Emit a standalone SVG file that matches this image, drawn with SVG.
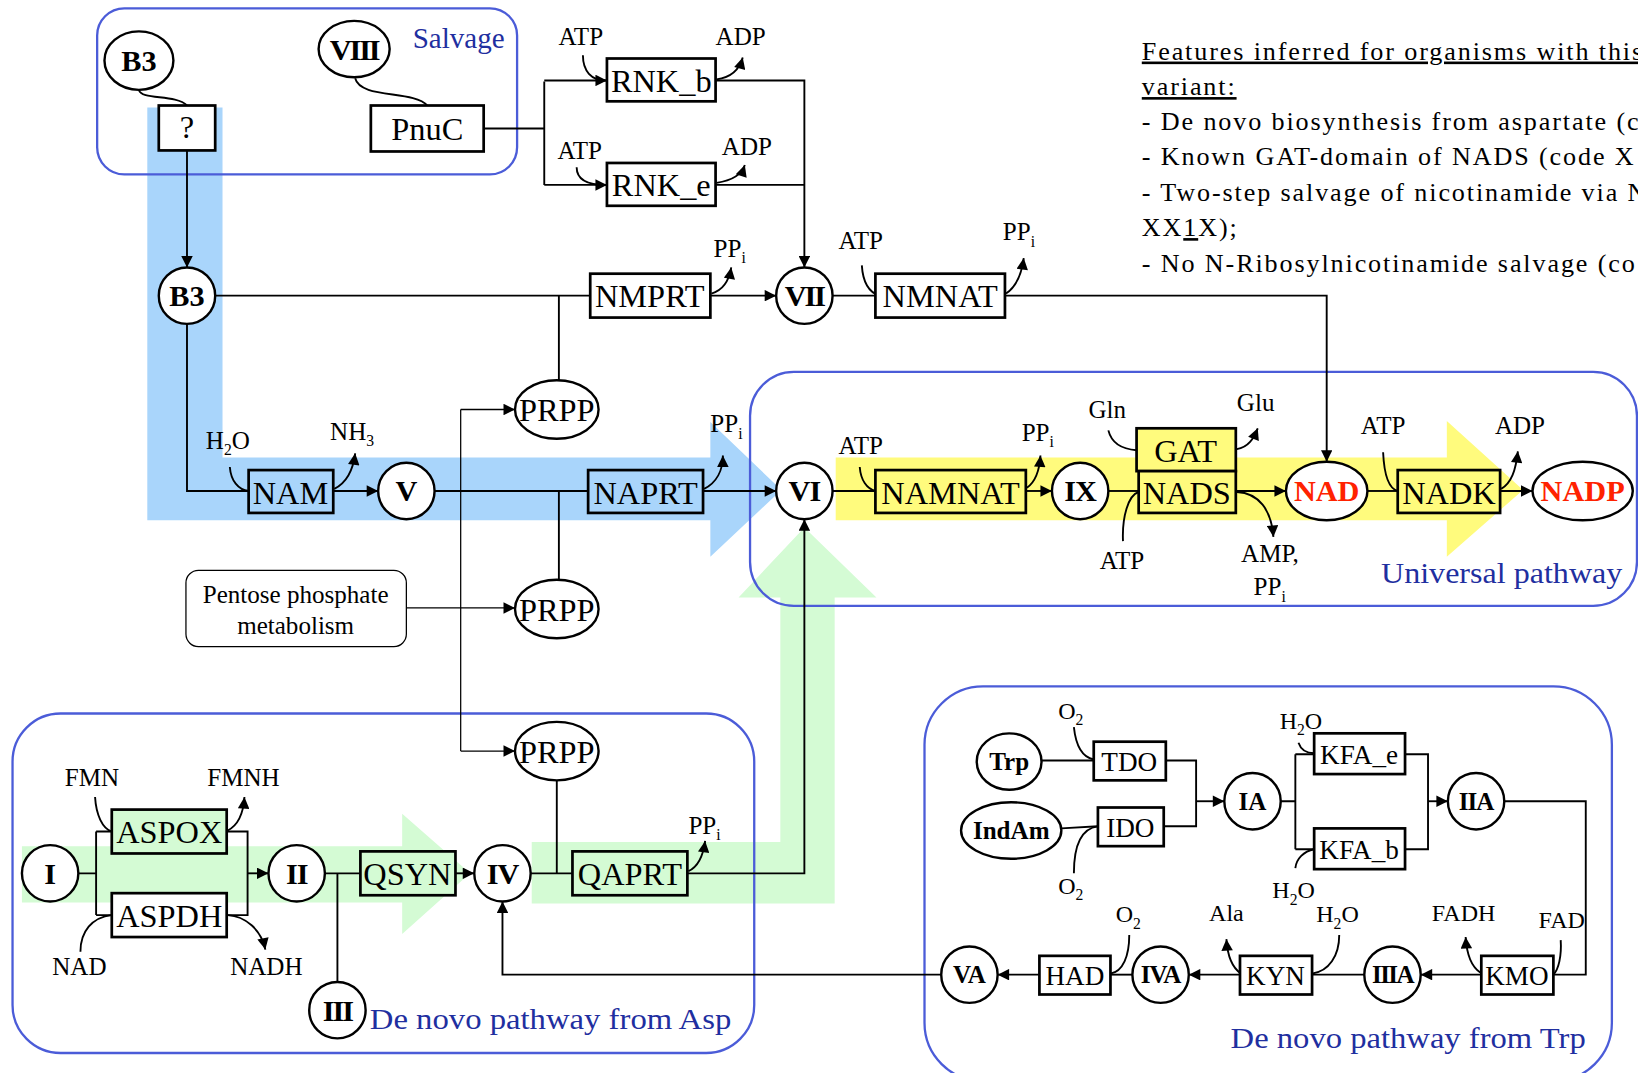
<svg xmlns="http://www.w3.org/2000/svg" width="1638" height="1073" viewBox="0 0 1638 1073">
<defs>
<marker id="ah" viewBox="0 0 10 10" refX="10" refY="5" markerWidth="14" markerHeight="11" markerUnits="userSpaceOnUse" orient="auto"><path d="M0,0L10,5L0,10z" fill="#000"/></marker>
<style>
text{font-family:"Liberation Serif","Times New Roman",serif;fill:#000}
.enz{font-size:31px;text-anchor:middle}
.enzs{font-size:26px;text-anchor:middle}
.met{font-size:29px;font-weight:bold;text-anchor:middle}
.mets{font-size:24px;font-weight:bold;text-anchor:middle}
.lab{font-size:24px}
.labs{font-size:23px}
.sub{font-size:15px}
.grp{font-size:29px;fill:#1f2fa0}
.feat{font-size:25px;letter-spacing:1.8px}
.box{stroke:#000;stroke-width:2.6;fill:#fff}
.circ{stroke:#000;stroke-width:2.3;fill:#fff}
.frame{fill:none;stroke:#4b5cd8;stroke-width:2.2}
.c{fill:none;stroke:#000;stroke-width:1.8}
.t{fill:none;stroke:#000;stroke-width:1.2}
.red{fill:#ff2200}
</style>
</defs>
<rect width="1638" height="1073" fill="#fff"/>
<g transform="scale(1.04464)">
<!-- background flow bands -->
<g id="bands">
<polygon points="141,103 213,103 213,438 680,438 680,404 748,469 680,533 680,498 141,498" fill="#a9d5fb"/>
<polygon points="800,438 1385,438 1385,403 1458,469 1385,533 1385,498 800,498" fill="#fffb7d"/>
<polygon points="21,810 385,810 385,779 450,836 385,894 385,864 21,864" fill="#d4fbd4"/>
<polygon points="509,806 747,806 747,572 707,572 770,505 839,572 799,572 799,865 509,865" fill="#d4fbd4"/>
</g>
<!-- group frames -->
<g id="frames">
<rect class="frame" x="93" y="8" width="402" height="159" rx="26"/>
<rect class="frame" x="718" y="356" width="849" height="224" rx="42"/>
<rect class="frame" x="12" y="683" width="710" height="325" rx="46"/>
<rect class="frame" x="885" y="657" width="658" height="378" rx="56"/>
<text class="grp" x="395" y="46" textLength="88" lengthAdjust="spacingAndGlyphs">Salvage</text>
<text class="grp" x="1322" y="558" textLength="231" lengthAdjust="spacingAndGlyphs">Universal pathway</text>
<text class="grp" x="354" y="985" textLength="346" lengthAdjust="spacingAndGlyphs">De novo pathway  from Asp</text>
<text class="grp" x="1178" y="1003" textLength="340" lengthAdjust="spacingAndGlyphs">De novo pathway  from Trp</text>
</g>
<!-- connectors -->
<g id="connectors">
<path class="c" d="M133,86 C135,96 168,90 179,101"/>
<path class="c" d="M340,75 C345,95 396,86 409,101"/>
<path class="c" d="M179,144 V256" marker-end="url(#ah)"/>
<path class="c" d="M463,123 H521 M521,78 V177"/>
<path class="c" d="M521,77 H581" marker-end="url(#ah)"/>
<path class="c" d="M521,177 H581" marker-end="url(#ah)"/>
<path class="c" d="M685,77 H770 V256" marker-end="url(#ah)"/>
<path class="c" d="M685,177 H770"/>
<path class="c" d="M206,283 H565 M535,283 V364"/>
<path class="c" d="M680,283 H743" marker-end="url(#ah)"/>
<path class="c" d="M797,283 H838"/>
<path class="c" d="M962,283 H1270 V442" marker-end="url(#ah)"/>
<path class="c" d="M179,310 V470 H238"/>
<path class="c" d="M319,470 H362" marker-end="url(#ah)"/>
<path class="c" d="M416,470 H563 M535,470 V555"/>
<path class="c" d="M673,470 H743" marker-end="url(#ah)"/>
<path class="c" d="M797,470 H838"/>
<path class="c" d="M982,470 H1007" marker-end="url(#ah)"/>
<path class="c" d="M1061,470 H1090"/>
<path class="c" d="M1183,470 H1231" marker-end="url(#ah)"/>
<path class="c" d="M1309,470 H1338"/>
<path class="c" d="M1436,470 H1467" marker-end="url(#ah)"/>
<path class="t" d="M441,392 V719"/>
<path class="t" d="M441,392 H493" marker-end="url(#ah)"/>
<path class="t" d="M441,719 H493" marker-end="url(#ah)"/>
<path class="t" d="M389,582 H493" marker-end="url(#ah)"/>
<path class="c" d="M533,747 V836"/>
<path class="c" d="M75,836 H92 M92,796 V876 M92,796 H107 M92,876 H107"/>
<path class="c" d="M217,796 H237 V876 H217"/>
<path class="c" d="M237,836 H257" marker-end="url(#ah)"/>
<path class="c" d="M311,836 H345 M323,836 V940"/>
<path class="c" d="M436,836 H454" marker-end="url(#ah)"/>
<path class="c" d="M508,836 H548"/>
<path class="c" d="M658,836 H770 V497" marker-end="url(#ah)"/>
<path class="c" d="M901,933 H481 V863" marker-end="url(#ah)"/>
<path class="c" d="M997,728 H1047"/>
<path class="c" d="M1016,793 L1051,791"/>
<path class="c" d="M1116,728 H1145 V791 H1114"/>
<path class="c" d="M1145,767 H1172" marker-end="url(#ah)"/>
<path class="c" d="M1226,767 H1240 M1240,722 V813 M1240,722 H1258 M1240,813 H1258"/>
<path class="c" d="M1345,722 H1367 V813 H1345"/>
<path class="c" d="M1367,767 H1386" marker-end="url(#ah)"/>
<path class="c" d="M1440,767 H1518 V933 H1487"/>
<path class="c" d="M1418,933 H1360" marker-end="url(#ah)"/>
<path class="c" d="M1306,933 H1256"/>
<path class="c" d="M1187,933 H1138" marker-end="url(#ah)"/>
<path class="c" d="M1084,933 H1063"/>
<path class="c" d="M995,933 H955" marker-end="url(#ah)"/>
<!-- cofactor curves -->
<path class="c" d="M558,53 C558,68 566,77 580,77"/>
<path class="c" d="M686,76 C700,74 708,66 711,55" marker-end="url(#ah)"/>
<path class="c" d="M552,160 C552,170 560,177 580,177"/>
<path class="c" d="M686,175 C700,173 710,167 713,158" marker-end="url(#ah)"/>
<path class="c" d="M681,281 C692,278 698,268 700,256" marker-end="url(#ah)"/>
<path class="c" d="M825,254 C826,270 832,280 842,283"/>
<path class="c" d="M963,281 C972,275 978,262 980,247" marker-end="url(#ah)"/>
<path class="c" d="M220,447 C221,460 228,469 238,470"/>
<path class="c" d="M320,468 C332,462 338,450 340,434" marker-end="url(#ah)"/>
<path class="c" d="M674,468 C686,462 692,450 692,436" marker-end="url(#ah)"/>
<path class="c" d="M823,447 C824,460 830,468 838,470"/>
<path class="c" d="M983,467 C990,462 995,452 996,436" marker-end="url(#ah)"/>
<path class="c" d="M1075,518 C1074,495 1080,474 1090,471"/>
<path class="c" d="M1061,412 C1064,424 1074,430 1088,431"/>
<path class="c" d="M1184,430 C1195,428 1200,420 1204,410" marker-end="url(#ah)"/>
<path class="c" d="M1184,471 C1205,472 1217,488 1219,514" marker-end="url(#ah)"/>
<path class="c" d="M1324,433 C1325,455 1330,468 1338,470"/>
<path class="c" d="M1437,468 C1447,462 1451,450 1453,432" marker-end="url(#ah)"/>
<path class="c" d="M91,763 C92,780 98,793 107,796"/>
<path class="c" d="M218,795 C228,790 233,778 234,763" marker-end="url(#ah)"/>
<path class="c" d="M77,911 C77,892 88,878 107,876"/>
<path class="c" d="M218,876 C235,877 250,890 254,909" marker-end="url(#ah)"/>
<path class="c" d="M659,834 C668,830 673,820 675,805" marker-end="url(#ah)"/>
<path class="c" d="M1028,696 C1030,715 1037,725 1047,727"/>
<path class="c" d="M1028,836 C1028,810 1035,793 1051,791"/>
<path class="c" d="M1243,711 C1245,717 1250,721 1258,721"/>
<path class="c" d="M1240,831 C1241,822 1248,815 1258,813"/>
<path class="c" d="M1494,900 C1495,915 1492,928 1487,933"/>
<path class="c" d="M1417,931 C1408,925 1404,913 1403,897" marker-end="url(#ah)"/>
<path class="c" d="M1282,895 C1282,915 1272,930 1256,932"/>
<path class="c" d="M1188,932 C1179,926 1175,915 1174,899" marker-end="url(#ah)"/>
<path class="c" d="M1081,895 C1081,915 1075,930 1063,932"/>
</g>
<!-- cofactor labels -->
<g id="cofactors">
<text class="lab" x="556" y="43" text-anchor="middle">ATP</text>
<text class="lab" x="709" y="43" text-anchor="middle">ADP</text>
<text class="lab" x="555" y="152" text-anchor="middle">ATP</text>
<text class="lab" x="715" y="148" text-anchor="middle">ADP</text>
<text class="lab" x="683" y="246">PP<tspan class="sub" dy="6">i</tspan></text>
<text class="lab" x="824" y="238" text-anchor="middle">ATP</text>
<text class="lab" x="960" y="230">PP<tspan class="sub" dy="6">i</tspan></text>
<text class="lab" x="197" y="430">H<tspan class="sub" dy="6">2</tspan><tspan dy="-6">O</tspan></text>
<text class="lab" x="316" y="421">NH<tspan class="sub" dy="6">3</tspan></text>
<text class="lab" x="680" y="414">PP<tspan class="sub" dy="6">i</tspan></text>
<text class="lab" x="824" y="435" text-anchor="middle">ATP</text>
<text class="lab" x="978" y="422">PP<tspan class="sub" dy="6">i</tspan></text>
<text class="lab" x="1060" y="400" text-anchor="middle">Gln</text>
<text class="lab" x="1202" y="393" text-anchor="middle">Glu</text>
<text class="lab" x="1074" y="545" text-anchor="middle">ATP</text>
<text class="lab" x="1188" y="538">AMP,</text>
<text class="lab" x="1200" y="570">PP<tspan class="sub" dy="6">i</tspan></text>
<text class="lab" x="1324" y="415" text-anchor="middle">ATP</text>
<text class="lab" x="1455" y="415" text-anchor="middle">ADP</text>
<text class="lab" x="88" y="752" text-anchor="middle">FMN</text>
<text class="lab" x="233" y="752" text-anchor="middle">FMNH</text>
<text class="lab" x="76" y="933" text-anchor="middle">NAD</text>
<text class="lab" x="255" y="933" text-anchor="middle">NADH</text>
<text class="lab" x="659" y="798">PP<tspan class="sub" dy="6">i</tspan></text>
<text class="labs" x="1013" y="688">O<tspan class="sub" dy="6">2</tspan></text>
<text class="labs" x="1013" y="856">O<tspan class="sub" dy="6">2</tspan></text>
<text class="labs" x="1225" y="698">H<tspan class="sub" dy="6">2</tspan><tspan dy="-6">O</tspan></text>
<text class="labs" x="1218" y="860">H<tspan class="sub" dy="6">2</tspan><tspan dy="-6">O</tspan></text>
<text class="labs" x="1068" y="883">O<tspan class="sub" dy="6">2</tspan></text>
<text class="labs" x="1174" y="882" text-anchor="middle">Ala</text>
<text class="labs" x="1260" y="883">H<tspan class="sub" dy="6">2</tspan><tspan dy="-6">O</tspan></text>
<text class="labs" x="1401" y="882" text-anchor="middle">FADH</text>
<text class="labs" x="1495" y="888" text-anchor="middle">FAD</text>
</g>
<!-- nodes -->
<g id="n-B3top"><ellipse class="circ" cx="133" cy="58" rx="33" ry="28"/><text class="met" x="133" y="68">B3</text></g>
<g id="n-VIII"><ellipse class="circ" cx="339" cy="47" rx="34" ry="27"/><text class="met" x="339" y="57" letter-spacing="-2">VIII</text></g>
<g id="n-unknown"><rect class="box" x="152" y="101" width="54" height="43"/><text class="enz" x="179" y="132" font-size="27">?</text></g>
<g id="n-PnuC"><rect class="box" x="355" y="101" width="108" height="44"/><text class="enz" x="409" y="134">PnuC</text></g>
<g id="n-RNK_b"><rect class="box" x="581" y="56" width="104" height="41"/><text class="enz" x="633" y="88">RNK_b</text></g>
<g id="n-RNK_e"><rect class="box" x="581" y="156" width="104" height="41"/><text class="enz" x="633" y="188">RNK_e</text></g>
<g id="n-B3"><circle class="circ" cx="179" cy="283" r="27"/><text class="met" x="179" y="293">B3</text></g>
<g id="n-NMPRT"><rect class="box" x="565" y="262" width="115" height="42"/><text class="enz" x="622" y="294">NMPRT</text></g>
<g id="n-VII"><circle class="circ" cx="770" cy="283" r="27"/><text class="met" x="770" y="293" letter-spacing="-2">VII</text></g>
<g id="n-NMNAT"><rect class="box" x="838" y="262" width="124" height="42"/><text class="enz" x="900" y="294">NMNAT</text></g>
<g id="n-PRPP1"><ellipse class="circ" cx="533" cy="392" rx="40" ry="28"/><text class="enz" x="533" y="403" font-size="29">PRPP</text></g>
<g id="n-PRPP2"><ellipse class="circ" cx="533" cy="583" rx="40" ry="28"/><text class="enz" x="533" y="594" font-size="29">PRPP</text></g>
<g id="n-PRPP3"><ellipse class="circ" cx="533" cy="719" rx="40" ry="28"/><text class="enz" x="533" y="730" font-size="29">PRPP</text></g>
<g id="n-NAM"><rect class="box" x="238" y="450" width="81" height="41" style="fill:#a9d5fb"/><text class="enz" x="278" y="482">NAM</text></g>
<g id="n-V"><circle class="circ" cx="389" cy="470" r="27"/><text class="met" x="389" y="480">V</text></g>
<g id="n-NAPRT"><rect class="box" x="563" y="450" width="110" height="41" style="fill:#a9d5fb"/><text class="enz" x="618" y="482">NAPRT</text></g>
<g id="n-VI"><circle class="circ" cx="770" cy="470" r="27"/><text class="met" x="770" y="480" letter-spacing="-1">VI</text></g>
<g id="n-NAMNAT"><rect class="box" x="838" y="450" width="144" height="41" style="fill:#fffb7d"/><text class="enz" x="910" y="482">NAMNAT</text></g>
<g id="n-IX"><circle class="circ" cx="1034" cy="470" r="27"/><text class="met" x="1034" y="480" letter-spacing="-1">IX</text></g>
<g id="n-GAT"><rect class="box" x="1088" y="410" width="95" height="41" style="fill:#fffb7d"/><text class="enz" x="1135" y="442">GAT</text></g>
<g id="n-NADS"><rect class="box" x="1090" y="451" width="93" height="40" style="fill:#fffb7d"/><text class="enz" x="1136" y="482">NADS</text></g>
<g id="n-NAD"><ellipse class="circ" cx="1270" cy="470" rx="39" ry="28"/><text class="met red" x="1270" y="480" font-size="28">NAD</text></g>
<g id="n-NADK"><rect class="box" x="1338" y="450" width="98" height="41" style="fill:#fffb7d"/><text class="enz" x="1387" y="482">NADK</text></g>
<g id="n-NADP"><ellipse class="circ" cx="1515" cy="470" rx="48" ry="28"/><text class="met red" x="1515" y="480" font-size="28">NADP</text></g>
<g id="n-Pentose"><rect x="178" y="546" width="211" height="73" rx="12" fill="#fff" stroke="#000" stroke-width="1.2"/><text x="283" y="577" font-size="24" text-anchor="middle">Pentose phosphate</text><text x="283" y="607" font-size="24" text-anchor="middle">metabolism</text></g>
<g id="n-I"><circle class="circ" cx="48" cy="836" r="27"/><text class="met" x="48" y="846">I</text></g>
<g id="n-ASPOX"><rect class="box" x="107" y="775" width="110" height="42" style="fill:#d4fbd4"/><text class="enz" x="162" y="807">ASPOX</text></g>
<g id="n-ASPDH"><rect class="box" x="107" y="855" width="110" height="42"/><text class="enz" x="162" y="887">ASPDH</text></g>
<g id="n-II"><circle class="circ" cx="284" cy="836" r="27"/><text class="met" x="284" y="846" letter-spacing="-1">II</text></g>
<g id="n-QSYN"><rect class="box" x="345" y="815" width="91" height="42" style="fill:#d4fbd4"/><text class="enz" x="390" y="847">QSYN</text></g>
<g id="n-IV"><circle class="circ" cx="481" cy="836" r="27"/><text class="met" x="481" y="846" letter-spacing="-1">IV</text></g>
<g id="n-QAPRT"><rect class="box" x="548" y="815" width="110" height="42" style="fill:#d4fbd4"/><text class="enz" x="603" y="847">QAPRT</text></g>
<g id="n-III"><circle class="circ" cx="323" cy="967" r="27"/><text class="met" x="323" y="977" letter-spacing="-2">III</text></g>
<g id="n-Trp"><ellipse class="circ" cx="966" cy="729" rx="31" ry="27"/><text class="mets" x="966" y="737">Trp</text></g>
<g id="n-IndAm"><ellipse class="circ" cx="968" cy="795" rx="48" ry="27"/><text class="mets" x="968" y="803" font-size="25">IndAm</text></g>
<g id="n-TDO"><rect class="box" x="1047" y="710" width="69" height="37"/><text class="enzs" x="1081" y="738">TDO</text></g>
<g id="n-IDO"><rect class="box" x="1051" y="773" width="63" height="37"/><text class="enzs" x="1082" y="801">IDO</text></g>
<g id="n-IA"><circle class="circ" cx="1199" cy="767" r="27"/><text class="mets" x="1199" y="775">IA</text></g>
<g id="n-KFA_e"><rect class="box" x="1258" y="702" width="87" height="39"/><text class="enzs" x="1301" y="731">KFA_e</text></g>
<g id="n-KFA_b"><rect class="box" x="1258" y="793" width="87" height="39"/><text class="enzs" x="1301" y="822">KFA_b</text></g>
<g id="n-IIA"><circle class="circ" cx="1413" cy="767" r="27"/><text class="mets" x="1413" y="775" letter-spacing="-1">IIA</text></g>
<g id="n-KMO"><rect class="box" x="1418" y="915" width="69" height="37"/><text class="enzs" x="1452" y="943">KMO</text></g>
<g id="n-IIIA"><circle class="circ" cx="1333" cy="933" r="27"/><text class="mets" x="1333" y="941" letter-spacing="-1.5">IIIA</text></g>
<g id="n-KYN"><rect class="box" x="1187" y="915" width="69" height="37"/><text class="enzs" x="1221" y="943">KYN</text></g>
<g id="n-IVA"><circle class="circ" cx="1111" cy="933" r="27"/><text class="mets" x="1111" y="941" letter-spacing="-1">IVA</text></g>
<g id="n-HAD"><rect class="box" x="995" y="915" width="68" height="37"/><text class="enzs" x="1029" y="943">HAD</text></g>
<g id="n-VA"><circle class="circ" cx="928" cy="933" r="27"/><text class="mets" x="928" y="941">VA</text></g>
<!-- features text -->
<g id="features">
<text class="feat" x="1093" y="57" text-decoration="underline">Features inferred for organisms with this</text>
<text class="feat" x="1093" y="91" text-decoration="underline">variant:</text>
<text class="feat" x="1093" y="124">- De novo biosynthesis from aspartate (c</text>
<text class="feat" x="1093" y="158">- Known GAT-domain of NADS (code X</text>
<text class="feat" x="1093" y="192">- Two-step salvage of nicotinamide via N</text>
<text class="feat" x="1093" y="226">XX<tspan text-decoration="underline">1</tspan>X);</text>
<text class="feat" x="1093" y="260">- No N-Ribosylnicotinamide salvage (co</text>
</g>
</g>
</svg>
